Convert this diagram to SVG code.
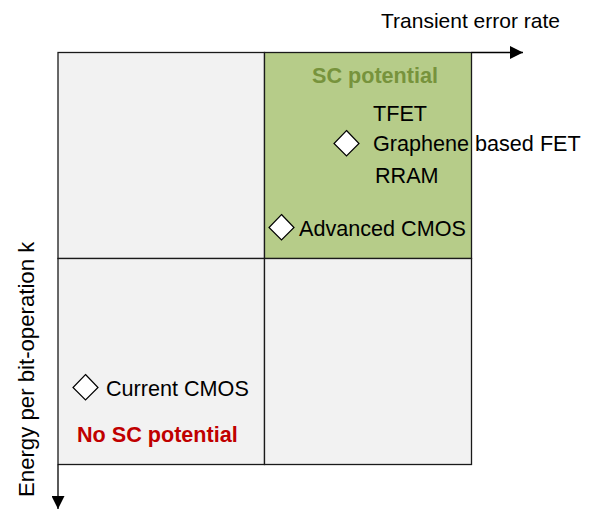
<svg xmlns="http://www.w3.org/2000/svg" width="600" height="510" viewBox="0 0 600 510">
<style>
.q{stroke:#1a1a1a;stroke-width:1.3}
.grey{fill:#f2f2f2}
.green{fill:#b6cc89}
.t{font-family:"Liberation Sans",Arial,sans-serif;font-size:21.6px;fill:#000}
.b{font-weight:bold}
.dia{fill:#fff;stroke:#000;stroke-width:1.2}
.ax{stroke:#000;stroke-width:1.3;fill:none}
</style>
<defs>
<marker id="arr" viewBox="0 0 10 10" refX="10" refY="5" markerWidth="18" markerHeight="13" markerUnits="userSpaceOnUse" orient="auto">
<path d="M0,0 L10,5 L0,10 Z" fill="#000"/>
</marker>
</defs>
<g id="quadrants">
<rect id="q-top-left" class="q grey" x="58" y="52.5" width="206.5" height="206"/>
<rect id="q-top-right" class="q green" x="264.5" y="52.5" width="207" height="206"/>
<rect id="q-bottom-left" class="q grey" x="58" y="258.5" width="206.5" height="206"/>
<rect id="q-bottom-right" class="q grey" x="264.5" y="258.5" width="207" height="206"/>
</g>
<g id="connectors">
<line class="ax" x1="471.5" y1="52.5" x2="523" y2="52.5" marker-end="url(#arr)"/>
<line class="ax" x1="58" y1="464.5" x2="58" y2="509" marker-end="url(#arr)"/>
</g>
<g id="axis-labels">
<text class="t" x="381" y="27.5" style="font-size:21px">Transient error rate</text>
<text class="t" transform="translate(34,497) rotate(-90)" style="font-size:22.2px">Energy per bit-operation k</text>
</g>
<g id="sc-potential">
<text class="t b" x="312" y="83" style="fill:#77933c">SC potential</text>
</g>
<g id="emerging">
<polygon class="dia" points="346.5,130.5 359,143.5 346.5,156 334,143.5"/>
<text class="t" x="373" y="121">TFET</text>
<text class="t" x="373" y="150.5">Graphene based FET</text>
<text class="t" x="375" y="183">RRAM</text>
</g>
<g id="advanced-cmos">
<polygon class="dia" points="281.5,214.5 294,227.5 281.5,240 269,227.5"/>
<text class="t" x="299" y="236">Advanced CMOS</text>
</g>
<g id="current-cmos">
<polygon class="dia" points="85.5,374.5 98,387.5 85.5,400 73,387.5"/>
<text class="t" x="106" y="396">Current CMOS</text>
</g>
<g id="no-sc-potential">
<text class="t b" x="77" y="442" style="fill:#c00000">No SC potential</text>
</g>
</svg>
